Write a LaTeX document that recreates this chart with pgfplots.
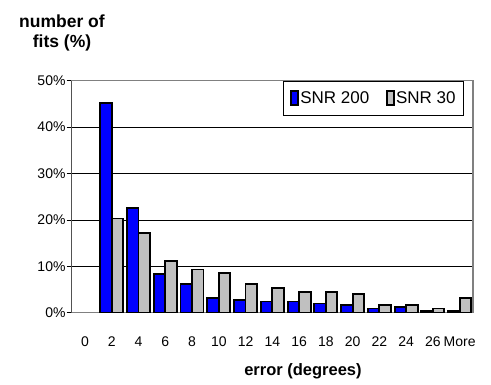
\documentclass[border=0pt]{standalone}
\usepackage{pgfplots}
\pgfplotsset{compat=1.18}
\usepackage{fontspec}
\setmainfont{Liberation Sans}
\definecolor{barblue}{RGB}{0,0,255}
\definecolor{bargray}{RGB}{192,192,192}
\definecolor{framegray}{RGB}{128,128,128}
\begin{document}
\begin{tikzpicture}
\path[use as bounding box] (0,0) rectangle (491bp,385bp);
\begin{axis}[
  at={(71.7bp,72.3bp)}, anchor=south west,
  scale only axis, width=401.3bp, height=232bp,
  xmin=-0.5, xmax=14.5, ymin=0, ymax=50,
  ybar=0pt, bar width=11.5bp,
  axis line style={framegray, line width=1.2bp},
  xtick={0,...,14},
  xticklabels={0,2,4,6,8,10,12,14,16,18,20,22,24,26,More},
  x tick label style={font=\fontsize{14bp}{16bp}\selectfont, yshift=-16bp},
  xtick style={draw=none},
  extra x ticks={-0.5,0.5,...,14.5},
  extra x tick labels={},
  extra x tick style={tick style={draw=black, line width=0.8bp}, major tick length=5bp, tick align=outside},
  xtick pos=bottom,
  ytick={0,10,...,50},
  yticklabel={\pgfmathprintnumber{\tick}\%},
  y tick label style={font=\fontsize{14bp}{16bp}\selectfont, inner xsep=1bp},
  ytick pos=left, tick align=outside, major tick length=5bp,
  ytick style={black, line width=0.8bp},
  /pgf/number format/assume math mode=true,
  ymajorgrids, grid style={black, line width=0.7bp},
  legend columns=2,
  legend style={at={(1,1)}, anchor=north east, xshift=-9bp, yshift=0bp,
    draw=black, line width=0.8bp, fill=white,
    font=\fontsize{17bp}{19bp}\selectfont,
    inner xsep=7bp, inner ysep=9bp,
    nodes={inner xsep=1bp, inner ysep=1bp},
    /tikz/every even column/.append style={column sep=16bp}},
  legend image code/.code={\draw[#1, line width=1.8bp] (0bp,-7bp) rectangle (7bp,7bp);},
]
\addplot[fill=barblue, draw=black, line width=1.8bp] coordinates {
(1,45.2) (2,22.5) (3,8.3) (4,6.2) (5,3.1) (6,2.7) (7,2.4) (8,2.4) (9,2.0) (10,1.7) (11,0.9) (12,1.3) (13,0.4) (14,0.4)};
\addplot[fill=bargray, draw=black, line width=1.8bp] coordinates {
(1,20.3) (2,17.2) (3,11.2) (4,9.3) (5,8.6) (6,6.2) (7,5.4) (8,4.4) (9,4.4) (10,4.0) (11,1.7) (12,1.7) (13,0.9) (14,3.2)};
\legend{SNR 200,SNR 30}
\draw[black, line width=1bp] (rel axis cs:0,0) -- (rel axis cs:0,1);
\end{axis}
\node[font=\bfseries\fontsize{17.5bp}{19bp}\selectfont] at (62bp,364bp) {number of};
\node[font=\bfseries\fontsize{17.5bp}{19bp}\selectfont] at (62bp,342bp) {fits (\%)};
\node[font=\bfseries\fontsize{16.5bp}{18bp}\selectfont] at (303bp,14bp) {error (degrees)};
\end{tikzpicture}
\end{document}
